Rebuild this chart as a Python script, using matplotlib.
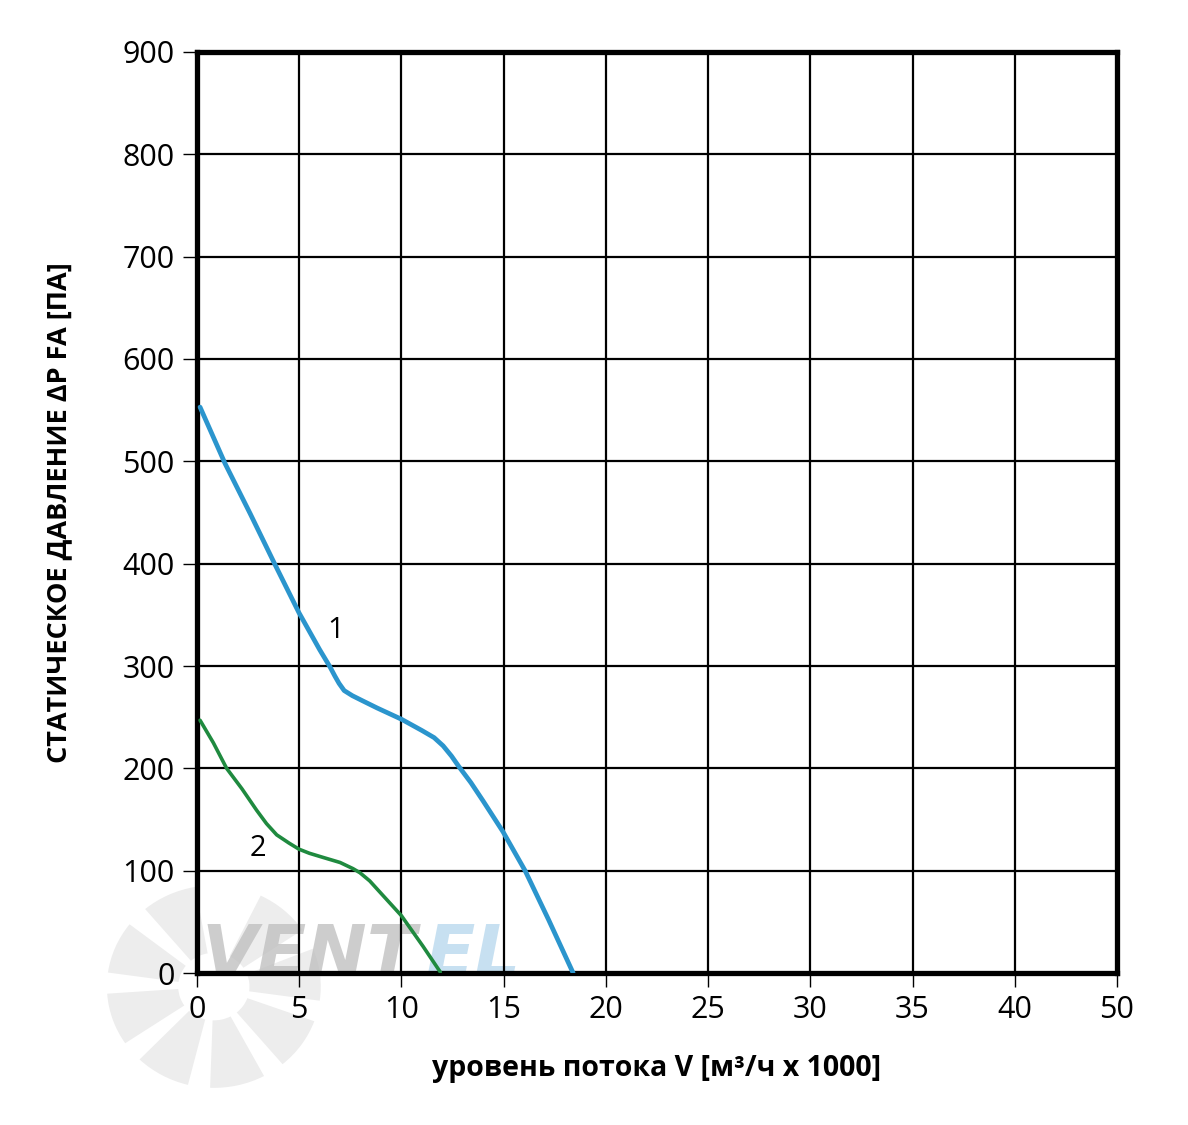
import numpy as np
import matplotlib
matplotlib.use('Agg')
import matplotlib.pyplot as plt
from matplotlib.patches import Wedge

plt.rcParams['font.family'] = ['Open Sans', 'DejaVu Sans']

# curve 1 (blue)
flow_1 = [0.15, 1.37, 2.6, 3.82, 4.99, 6.0, 6.51, 6.75, 6.95, 7.2, 7.6, 8.1, 8.81, 10.0, 11.0, 11.6,
          12.04, 12.45, 12.8, 13.4, 14.0, 14.97, 16.05, 17.2, 18.4]
press_1 = [553, 498, 449, 399, 352, 316, 299, 290, 283, 276, 271, 266, 259, 248, 237, 230,
           222, 212, 202, 186, 168, 138, 100, 52, 0]

# curve 2 (green)
flow_2 = [0.15, 0.8, 1.45, 2.2, 2.92, 3.4, 3.9, 4.5, 4.99, 5.5, 6.16, 7.0, 7.63, 7.97, 8.45, 8.95,
          10.0, 11.06, 11.9]
press_2 = [247, 225, 200, 180, 159, 146, 135, 127, 121, 117, 113, 108, 102, 98, 90, 79,
           56, 26, 1]

x_ticks = [0, 5, 10, 15, 20, 25, 30, 35, 40, 45]
x_labels = ['0', '5', '10', '15', '20', '25', '30', '35', '40', '50']
y_ticks = [0, 100, 200, 300, 400, 500, 600, 700, 800, 900]

fig = plt.figure(figsize=(11.88, 11.25), dpi=100)
ax = fig.add_axes([0.1658, 0.1351, 0.7744, 0.8187])
ax.patch.set_alpha(0)

# faint fan watermark behind the axes
for ang in range(100, 400, 42):
    fig.patches.append(Wedge((0.18, 0.123), 0.09, ang, ang + 30, width=0.06,
                             transform=fig.transFigure, facecolor='#ededed',
                             edgecolor='none', zorder=-5))

ax.text(0.2, -3, 'VENT', fontsize=52, fontweight='heavy', fontstyle='italic',
        family='DejaVu Sans', color='#bdbdbd', alpha=0.75, zorder=0.5)
ax.text(11.2, -3, 'EL', fontsize=52, fontweight='heavy', fontstyle='italic',
        family='DejaVu Sans', color='#b9d9ee', alpha=0.8, zorder=0.5)

ax.plot(flow_1, press_1, color='#2b95cd', lw=3.4, solid_capstyle='round',
        solid_joinstyle='round', zorder=3)
ax.plot(flow_2, press_2, color='#1f8a3f', lw=2.6, solid_capstyle='round',
        solid_joinstyle='round', zorder=3)

ax.text(6.8, 335, '1', fontsize=21, ha='center', va='center')
ax.text(2.98, 122, '2', fontsize=21, ha='center', va='center')

ax.set_xlim(0, 45)
ax.set_ylim(0, 900)
ax.set_xticks(x_ticks)
ax.set_xticklabels(x_labels)
ax.set_yticks(y_ticks)
ax.grid(True, color='black', lw=1.6, zorder=1)
ax.set_axisbelow(True)
for s in ax.spines.values():
    s.set_linewidth(3.8)
ax.tick_params(direction='out', length=10, width=1, labelsize=22, pad=6)

ax.set_xlabel('уровень потока V [м³/ч x 1000]', fontsize=20.5, fontweight='bold', labelpad=21)
ax.set_ylabel('СТАТИЧЕСКОЕ ДАВЛЕНИЕ ΔP FA [ПА]', fontsize=19.5, fontweight='bold', labelpad=36)

fig.savefig('out.png', dpi=100)
